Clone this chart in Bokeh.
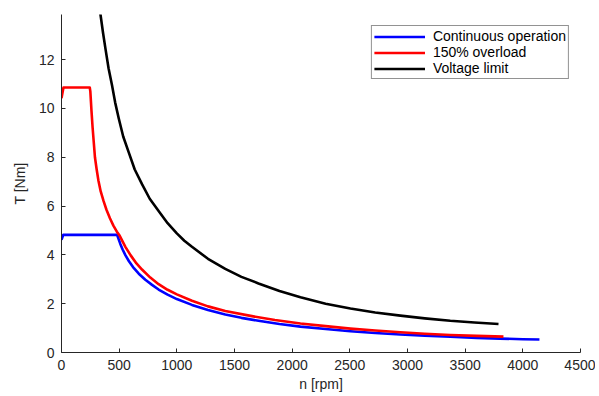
from bokeh.plotting import figure
from bokeh.models import Range1d, FixedTicker, Legend, LegendItem
from bokeh.embed import file_html
from bokeh.resources import INLINE

# Continuous operation
n_cont = [0, 15, 482, 495, 510, 530, 555, 585, 620, 670, 727, 785, 842, 920, 1000,
          1131, 1270, 1420, 1560, 1708, 1890, 2072, 2290, 2505, 2720, 2938, 3150,
          3371, 3600, 3800, 4000, 4144]
T_cont = [4.62, 4.82, 4.82, 4.65, 4.45, 4.22, 3.98, 3.74, 3.50, 3.23, 2.98, 2.77,
          2.58, 2.37, 2.19, 1.95, 1.74, 1.56, 1.42, 1.30, 1.17, 1.06, 0.96, 0.87,
          0.80, 0.74, 0.69, 0.645, 0.60, 0.57, 0.545, 0.53]

# 150% overload
n_over = [0, 17, 245, 250, 255, 260, 270, 280, 290, 305, 320, 340, 365, 390, 420,
          450, 480, 505, 554, 600, 650, 698, 770, 842, 920, 1000, 1131, 1270, 1420,
          1639, 1850, 2072, 2290, 2505, 2720, 2938, 3150, 3371, 3600, 3832]
T_over = [10.42, 10.86, 10.86, 10.7, 10.3, 9.9, 9.2, 8.6, 8.0, 7.5, 7.05, 6.6, 6.2,
          5.85, 5.5, 5.2, 4.95, 4.78, 4.33, 3.98, 3.65, 3.40, 3.07, 2.80, 2.57, 2.38,
          2.12, 1.89, 1.70, 1.50, 1.33, 1.19, 1.08, 0.98, 0.90, 0.83, 0.77, 0.72,
          0.68, 0.65]

# Voltage limit
n_volt = [325, 338, 360, 381, 408, 438, 465, 496, 535, 583, 635, 698, 765, 842, 920,
          1000, 1065, 1131, 1270, 1420, 1560, 1708, 1890, 2072, 2290, 2505, 2720,
          2938, 3150, 3371, 3580, 3789]
T_volt = [14.3, 13.85, 13.1, 12.45, 11.65, 10.95, 10.25, 9.6, 8.85, 8.2, 7.5, 6.9,
          6.3, 5.8, 5.3, 4.88, 4.58, 4.33, 3.84, 3.43, 3.10, 2.83, 2.52, 2.26, 2.0,
          1.80, 1.64, 1.51, 1.40, 1.30, 1.23, 1.17]

x_ticks = [0, 500, 1000, 1500, 2000, 2500, 3000, 3500, 4000, 4500]
y_ticks = [0, 2, 4, 6, 8, 10, 12]

FONT = "Liberation Sans"
TXT = "#262626"

p = figure(width=595, height=394, output_backend="svg", toolbar_location=None,
           x_range=Range1d(0, 4500), y_range=Range1d(0, 13.85),
           min_border_left=61, min_border_right=15, min_border_top=14,
           min_border_bottom=41)
p.outline_line_color = None
p.xgrid.visible = False
p.ygrid.visible = False
p.background_fill_color = "white"
p.border_fill_color = "white"

r1 = p.line(n_cont, T_cont, line_color="#0000FF", line_width=2.6, line_join="round")
r2 = p.line(n_over, T_over, line_color="#FF0000", line_width=2.6, line_join="round")
r3 = p.line(n_volt, T_volt, line_color="#000000", line_width=2.6, line_join="round")

for ax, ticks in ((p.xaxis[0], x_ticks), (p.yaxis[0], y_ticks)):
    ax.ticker = FixedTicker(ticks=ticks)
    ax.minor_tick_line_color = None
    ax.major_tick_in = 4
    ax.major_tick_out = 0
    ax.axis_line_color = TXT
    ax.major_tick_line_color = TXT
    ax.major_label_text_color = TXT
    ax.major_label_text_font = FONT
    ax.major_label_text_font_size = "14px"
    ax.axis_label_text_font = FONT
    ax.axis_label_text_font_size = "14px"
    ax.axis_label_text_font_style = "normal"
    ax.axis_label_text_color = TXT

p.xaxis.major_label_standoff = 7
p.yaxis.major_label_standoff = 7
p.xaxis.axis_label = "n [rpm]"
p.yaxis.axis_label = "T [Nm]"
p.xaxis.axis_label_standoff = 3
p.yaxis.axis_label_standoff = 8

legend = Legend(items=[
    LegendItem(label="Continuous operation", renderers=[r1]),
    LegendItem(label="150% overload", renderers=[r2]),
    LegendItem(label="Voltage limit", renderers=[r3]),
], location="top_right")
legend.margin = 11
legend.padding = 2
legend.spacing = 0
legend.glyph_width = 51
legend.glyph_height = 15
legend.label_height = 15
legend.label_standoff = 8
legend.label_text_font = FONT
legend.label_text_font_size = "14px"
legend.label_text_color = "#000000"
legend.border_line_color = TXT
legend.border_line_width = 1
legend.background_fill_color = "white"
legend.background_fill_alpha = 1
p.add_layout(legend, "center")

open("out.html", "w").write(file_html(p, INLINE))
